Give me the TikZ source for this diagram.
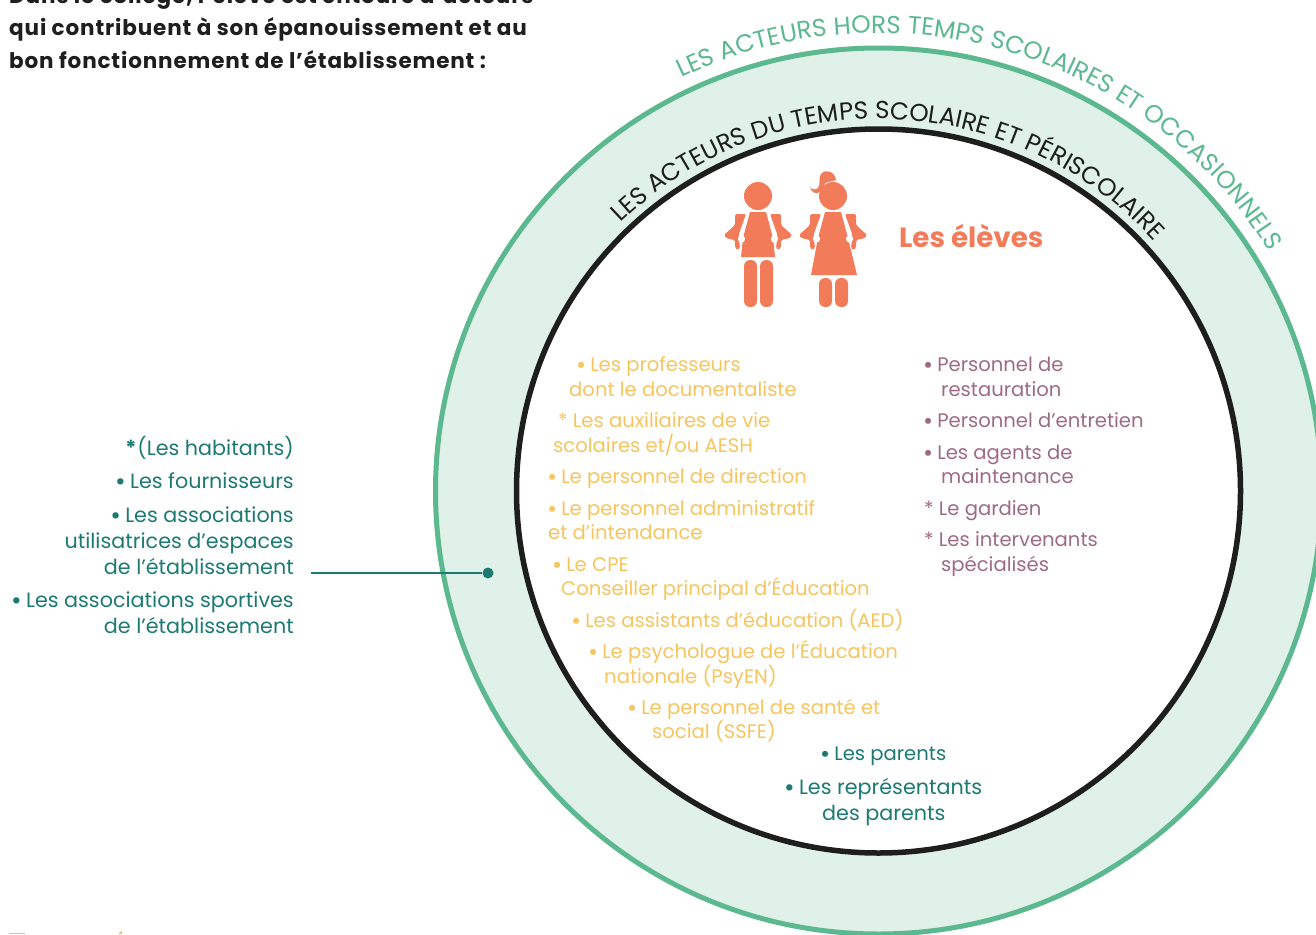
\documentclass[tikz,border=0pt]{standalone}
\usepackage{fontspec}
\usepackage{graphicx}
\setmainfont{Poppins}
\newfontfamily\headfont[LetterSpace=4]{Poppins}
\usetikzlibrary{decorations.text}
\definecolor{ringgreen}{HTML}{5CB88F}
\definecolor{ringfill}{HTML}{DFF1E8}
\definecolor{inkblack}{HTML}{1E1E1E}
\definecolor{kidorange}{HTML}{F27B5A}
\definecolor{staffyellow}{HTML}{F6C55F}
\definecolor{staffmauve}{HTML}{9E6B84}
\definecolor{partnerteal}{HTML}{1C7A73}
\newcommand{\bul}{\makebox[.4em][c]{\raisebox{-.12em}{\scalebox{1.25}{•}}}}
\tikzset{
  item/.style={anchor=base west,inner sep=0pt,font=\fontsize{19.6}{22}\selectfont},
  yellowitem/.style={item,text=staffyellow},
  mauveitem/.style={item,text=staffmauve},
  tealitem/.style={item,text=partnerteal},
  sideitem/.style={anchor=base east,inner sep=0pt,text=partnerteal,font=\fontsize{20.7}{23}\selectfont},
  headline/.style={anchor=base west,inner sep=0pt,text=inkblack,font=\headfont\fontsize{21.5}{24}\selectfont\bfseries},
  kidleg/.style={fill=kidorange,rounded corners=6pt},
  kidtop/.pic={
    \fill[kidorange] (0,0) circle (14);
    % pack, both sides
    \foreach \s in {-1,1} {
      \fill[kidorange,rounded corners=1.5pt] (\s*23,18) -- (\s*12,18) -- (\s*19.5,39) -- (\s*18,52) -- (\s*20,54)
        -- (\s*23,52) -- (\s*23,44) -- (\s*32,42) -- (\s*34,39) -- (\s*23,29) -- cycle;
      \fill[white] (\s*16.5,43) circle (3.6);
    }
  },
}
\begin{document}
\begin{tikzpicture}[x=1pt,y=-1pt]

  \useasboundingbox (0,0) rectangle (1316,934);
  \clip (0,0) rectangle (1316,934);
  \newcommand\CX{878.5}
  \newcommand\CY{491}

  % rings
  \draw[line width=5pt,draw=ringgreen,fill=ringfill] (\CX,\CY) circle (443);
  \draw[line width=5.5pt,draw=inkblack,fill=white] (\CX,\CY) circle (362);

  \path[decorate,decoration={text along path,text align=center,
    text={|\fontsize{24.8}{26}\selectfont\color{ringgreen}|LES ACTEURS HORS TEMPS SCOLAIRES ET OCCASIONNELS}}]
    (\CX,\CY) ++(-123:458) arc[start angle=-123,end angle=-24,radius=458];
  \path[decorate,decoration={text along path,text align=center,
    text={|\fontsize{24.6}{26}\selectfont\color{inkblack}|LES ACTEURS DU TEMPS SCOLAIRE ET PÉRISCOLAIRE}}]
    (\CX,\CY) ++(-142:372) arc[start angle=-142,end angle=-34,radius=372];

  % the two kids
  \fill[kidorange] (750,212) -- (766,212) -- (773,238) -- (775,257) -- (741,257) -- (743,238) -- cycle;
  \fill[kidleg] (744,260) -- (757,260) -- (757,307) -- (744,307) -- cycle;
  \fill[kidleg] (760,260) -- (773,260) -- (773,307) -- (760,307) -- cycle;
  \pic (boy) at (758,196) {kidtop};
  \fill[kidorange] (825,212) -- (841,212) -- (848,238) -- (857,275) -- (811,275) -- (818,238) -- cycle;
  \fill[kidleg] (819,278) -- (832,278) -- (832,307) -- (819,307) -- cycle;
  \fill[kidleg] (835,278) -- (848,278) -- (848,307) -- (835,307) -- cycle;
  \pic (girl) at (833,196) {kidtop};
  \fill[kidorange] (836,180) .. controls (835,172) and (826,168) .. (821,174)
    .. controls (818,178) and (821,184) .. (818,188)
    .. controls (816,190) and (812,190) .. (810,187)
    .. controls (811,192) and (816,195) .. (820,192)
    .. controls (823,190) and (824,186) .. (825,183) -- cycle;
  \node[inner sep=0pt,anchor=base west,text=kidorange,font=\fontsize{27.8}{30}\selectfont\bfseries]
    (eleves) at (899,247) {Les élèves};

  \foreach \px/\py/\txt [count=\i] in {
    577/371/\bul{} Les professeurs, 569/396/dont le documentaliste,
    558/427/* Les auxiliaires de vie, 553/452/{scolaires et/ou AESH},
    548/483/\bul{} Le personnel de direction, 548/515/\bul{} Le personnel administratif,
    548/539/et d’intendance, 553/571/\bul{} Le CPE,
    561/595/Conseiller principal d’Éducation, 572/627/\bul{} Les assistants d’éducation (AED),
    589/658/\bul{} Le psychologue de l’Éducation, 604/683/nationale (PsyEN),
    628/714/\bul{} Le personnel de santé et, 652/738/social (SSFE)}
    \node[yellowitem] (yellow\i) at (\px,\py) {\txt};

  \foreach \px/\py/\txt [count=\i] in {
    924/371/\bul{} Personnel de, 941/396/restauration, 924/427/\bul{} Personnel d’entretien,
    924/459/\bul{} Les agents de, 941/483/maintenance, 924/515/* Le gardien,
    924/546/* Les intervenants, 941/571/spécialisés}
    \node[mauveitem] (mauve\i) at (\px,\py) {\txt};

  \node[tealitem] (parents1) at (821,760) {\bul{} Les parents};
  \node[sideitem,anchor=base west] (parents2) at (785,794) {\bul{} Les représentants};
  \node[sideitem,anchor=base west] (parents3) at (822,820) {des parents};

  \foreach \py/\txt [count=\i] in {
    455/\textbf{*}\hspace{.05em}(Les habitants), 488/\bul{} Les fournisseurs, 522/\bul{} Les associations,
    548/utilisatrices d’espaces, 574/de l’établissement,
    607/\bul{} Les associations sportives, 633/de l’établissement}
    \node[sideitem] (side\i) at (294,\py) {\txt};

  % link
  \coordinate (linkstart) at (311,573);
  \node[circle,fill=partnerteal,inner sep=0pt,minimum size=11pt] (linkdot) at (488,573) {};
  \draw[line width=2.2pt,draw=partnerteal] (linkstart) -- (linkdot);

  \node[headline] (head1) at (9,4) {Dans le collège, l’élève est entouré d’acteurs};
  \node[headline] (head2) at (9,36) {qui contribuent à son épanouissement et au};
  \node[headline] (head3) at (9,68) {bon fonctionnement de l’établissement :};

  % cut off at the page foot
  \fill[staffyellow!90!orange] (9,933) rectangle (25,934);
  \fill[staffyellow!90!orange] (119,933) -- (122,931) -- (122,934) -- (119,934) -- cycle;

\end{tikzpicture}
\end{document}
